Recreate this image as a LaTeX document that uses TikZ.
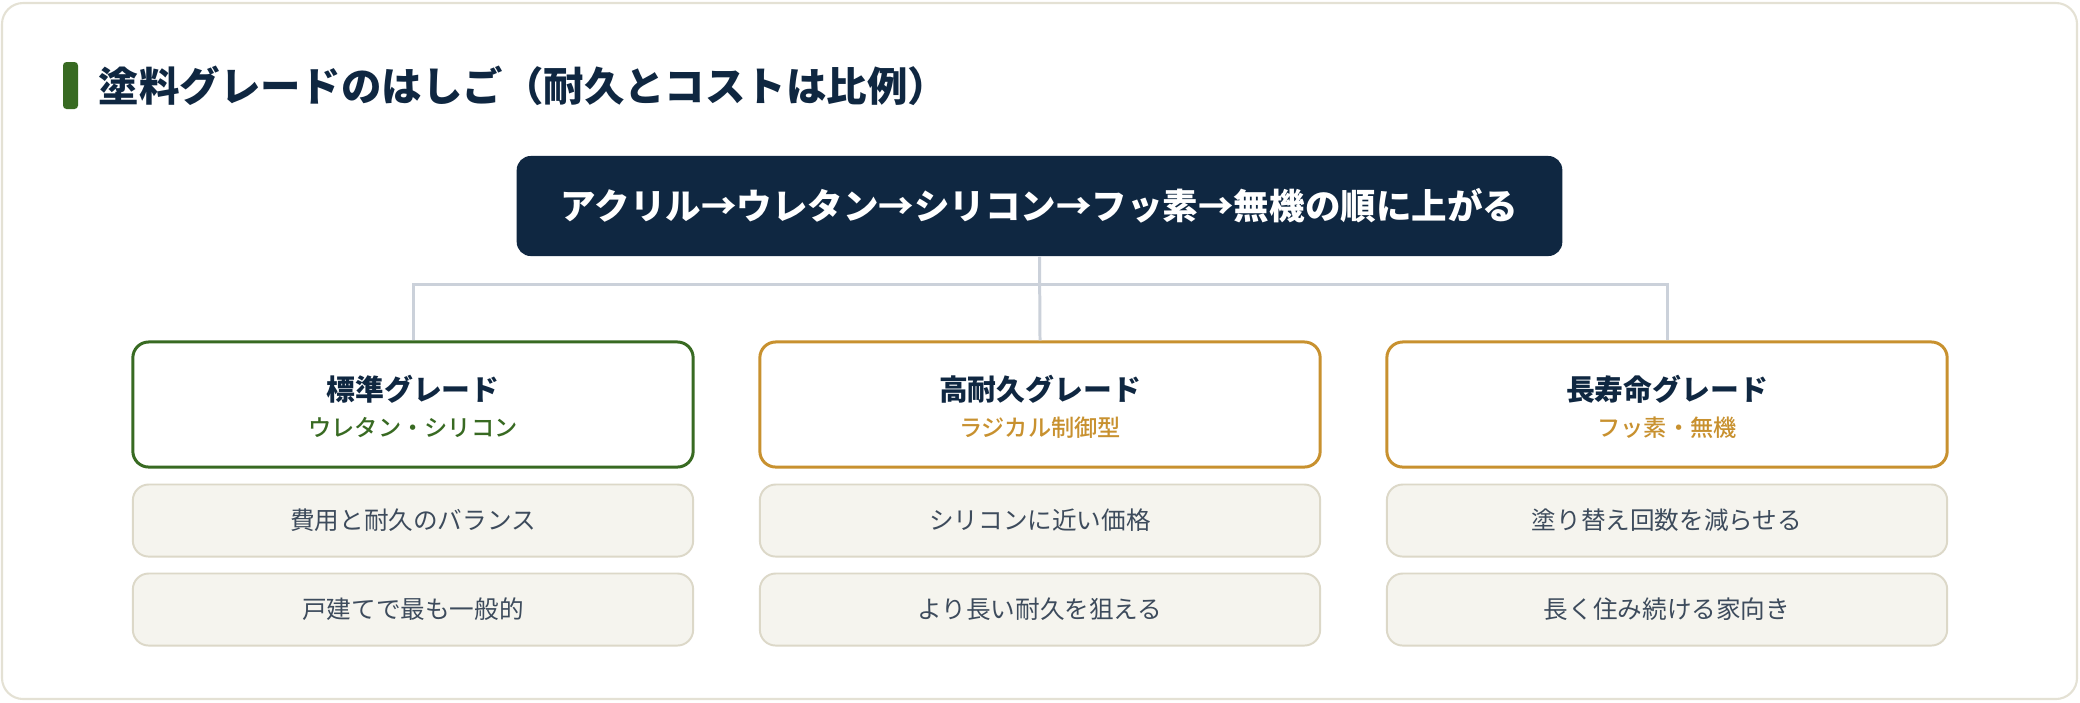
\documentclass[tikz,border=0pt]{standalone}
\usepackage{fontspec}
\setmainfont{Noto Sans CJK JP}
\IfFontExistsTF{Noto Sans CJK JP Medium}
   {\newfontfamily\jpmed{Noto Sans CJK JP Medium}}
   {\newfontfamily\jpmed{Noto Sans CJK JP}}
\usetikzlibrary{positioning}
\definecolor{navy}{HTML}{0F2741}
\definecolor{leaf}{HTML}{386A22}
\definecolor{ochre}{HTML}{C8912F}
\definecolor{wire}{HTML}{CBD1DA}
\definecolor{paper}{HTML}{F5F4EE}
\definecolor{rim}{HTML}{DCD8C8}
\definecolor{frame}{HTML}{E4E1D4}
\definecolor{ink}{HTML}{3D4B5C}

\begin{document}
\begin{tikzpicture}[x=0.01cm,y=-0.01cm,
   card/.style={draw=#1,line width=0.85pt,fill=white,rounded corners=4.5pt,
     minimum width=5.6cm,minimum height=1.25cm,inner sep=0pt},
   note/.style={draw=rim,line width=0.55pt,fill=paper,rounded corners=4.5pt,
     minimum width=5.6cm,minimum height=0.72cm,inner sep=0pt,
     font=\fontsize{7}{8}\selectfont,text=ink},
   head/.style={font=\bfseries\fontsize{8.2}{9}\selectfont,text=navy},
   sub/.style={font=\jpmed\fontsize{6.6}{7}\selectfont,text=#1},
   wire/.style={draw=wire,line width=0.85pt}]
\useasboundingbox (0,0) rectangle (2080,702);
\draw[frame,line width=0.6pt,rounded corners=6pt,fill=white] (2,3) rectangle (2077,699);
% titre
\fill[leaf,rounded corners=1pt] (63,62) rectangle (78,109);
\node[anchor=west,inner sep=0pt,text=navy,font=\bfseries\fontsize{11.5}{13}\selectfont]
   (title) at (98,86) {塗料グレードのはしご（耐久とコストは比例）};
% bandeau
\node[fill=navy,rounded corners=4pt,minimum width=10.45cm,minimum height=1cm,inner sep=0pt,
   text=white,font=\bfseries\fontsize{10.1}{12}\selectfont]
   (order) at (1039.5,206) {アクリル→ウレタン→シリコン→フッ素→無機の順に上がる};
% cartes
\node[card=leaf]  (std)  at (413,404.5)  {};
\node[card=ochre] (dur)  at (1040,404.5) {};
\node[card=ochre] (life) at (1667,404.5) {};
\node[head] (stdT)  at ([yshift=0.15cm]std.center)  {標準グレード};
\node[sub=leaf] (stdS) at ([yshift=-0.23cm]std.center) {ウレタン・シリコン};
\node[head] (durT)  at ([yshift=0.15cm]dur.center)  {高耐久グレード};
\node[sub=ochre] (durS) at ([yshift=-0.23cm]dur.center) {ラジカル制御型};
\node[head] (lifeT) at ([yshift=0.15cm]life.center) {長寿命グレード};
\node[sub=ochre] (lifeS) at ([yshift=-0.23cm]life.center) {フッ素・無機};
% liaisons
\coordinate (fork) at (1039.5,284);
\draw[wire] (order.south) -- (dur.north);
\draw[wire] (std.north) |- (fork);
\draw[wire] (life.north) |- (fork);
% notes
\node[note,below=0.15cm of std]   (std1)  {費用と耐久のバランス};
\node[note,below=0.15cm of std1]  (std2)  {戸建てで最も一般的};
\node[note,below=0.15cm of dur]   (dur1)  {シリコンに近い価格};
\node[note,below=0.15cm of dur1]  (dur2)  {より長い耐久を狙える};
\node[note,below=0.15cm of life]  (life1) {塗り替え回数を減らせる};
\node[note,below=0.15cm of life1] (life2) {長く住み続ける家向き};
\end{tikzpicture}
\end{document}
